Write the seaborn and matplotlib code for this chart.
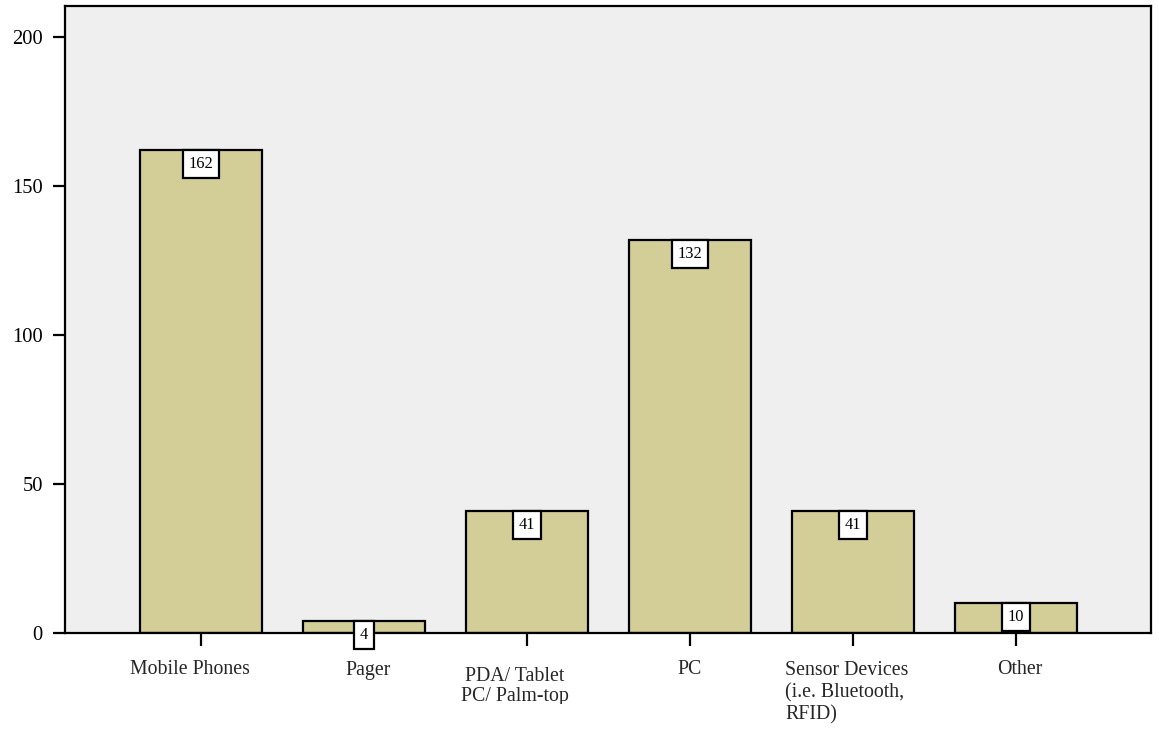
import matplotlib
matplotlib.use("Agg")
import matplotlib.pyplot as plt
import seaborn as sns
import pandas as pd
from matplotlib.transforms import Bbox

# Device categories and response counts
categories = ["Mobile Phones", "Pager", "PDA/ Tablet PC/ Palm-top", "PC",
              "Sensor Devices (i.e. Bluetooth, RFID)", "Other"]
counts = [162, 4, 41, 132, 41, 10]
tick_text = ["Mobile Phones", "Pager", "PDA/ Tablet\nPC/ Palm-top", "PC",
             "Sensor Devices\n(i.e. Bluetooth,\nRFID)", "Other"]
y_ticks = [0, 50, 100, 150, 200]

sns.set_theme(style="white")
plt.rcParams["font.family"] = ["Liberation Serif", "DejaVu Serif"]

W, H = 1159, 729
fig = plt.figure(figsize=(W / 100, H / 100), dpi=100)
ax = fig.add_axes([65 / W, (H - 633) / H, (1151 - 65) / W, (633 - 6) / H])

df = pd.DataFrame({"device": categories, "count": counts})
sns.barplot(data=df, x="device", y="count", ax=ax, color="#d3cd98",
            saturation=1, width=0.75, edgecolor="black", linewidth=1.6,
            order=categories)

ax.set_facecolor("#efefef")
ax.set_xlim(-0.834, 5.828)
ax.set_ylim(0, 210.4)
ax.set_xlabel("")
ax.set_ylabel("")

for s in ax.spines.values():
    s.set_visible(True)
    s.set_color("black")
    s.set_linewidth(1.6)

ax.set_yticks(y_ticks)
ax.set_yticklabels([str(v) for v in y_ticks], fontsize=14.8)
ax.tick_params(axis="y", left=True, length=9, width=1.6, pad=7,
               direction="out", colors="black")
ax.tick_params(axis="x", bottom=True, length=9.5, width=1.6,
               direction="out", colors="black")
ax.set_xticks(range(len(categories)))
ax.set_xticklabels([""] * len(categories))

# Category labels beneath the axis (pixel offsets from each tick)
label_layout = [
    # dx, dy (px below axis), ha, linespacing, clipped
    (-11, 37, "center", 1.2, False),
    (4, 37, "center", 1.2, False),
    (-12, 53.5, "center", 1.05, True),
    (0, 37, "center", 1.2, False),
    (-68, 60, "left", 1.2, False),
    (4, 37, "center", 1.2, False),
]
clip = Bbox.from_extents(0, 25, W, H)
for i, (txt, (dx, dy, ha, ls, clipped)) in enumerate(zip(tick_text, label_layout)):
    t = ax.annotate(txt, xy=(i, 0), xycoords=("data", "axes fraction"),
                    xytext=(dx, -dy), textcoords="offset pixels",
                    ha=ha, va="center", fontsize=14.3, linespacing=ls,
                    multialignment=ha, annotation_clip=False)
    if clipped:
        t.set_clip_on(True)
        t.set_clip_box(clip)

# Value boxes hanging from the top of each bar
for i, v in enumerate(counts):
    ax.annotate(str(v), xy=(i, v), xytext=(0, -14), textcoords="offset pixels",
                ha="center", va="center", fontsize=11.8, color="black",
                bbox=dict(boxstyle="square,pad=0.36", fc="white",
                          ec="black", lw=1.6),
                annotation_clip=False, zorder=5)

fig.savefig("out.png", dpi=100, facecolor="white")
